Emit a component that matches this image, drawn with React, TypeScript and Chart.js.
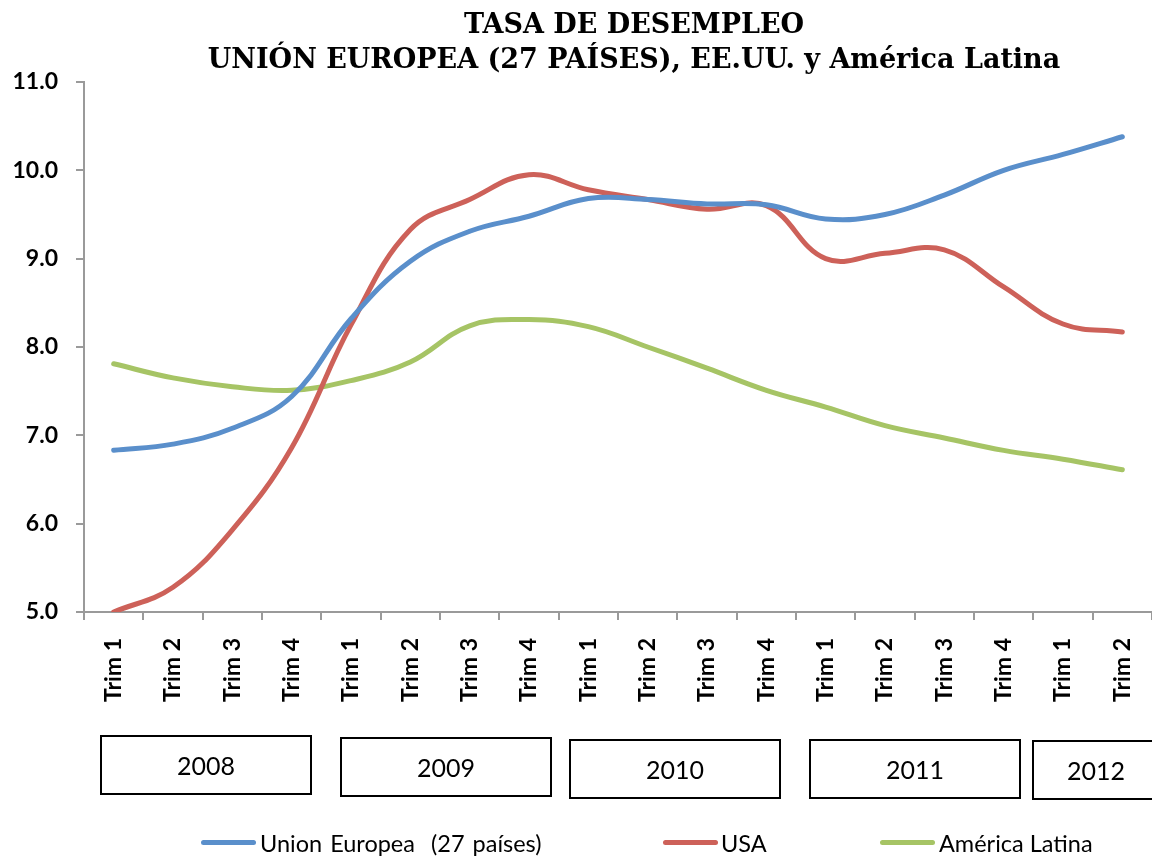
import React, { useEffect, useRef } from "react";
import { Chart, registerables } from "chart.js";

Chart.register(...registerables);

const quarters = [
  "Trim 1", "Trim 2", "Trim 3", "Trim 4",
  "Trim 1", "Trim 2", "Trim 3", "Trim 4",
  "Trim 1", "Trim 2", "Trim 3", "Trim 4",
  "Trim 1", "Trim 2", "Trim 3", "Trim 4",
  "Trim 1", "Trim 2",
];

const euValues = [6.83, 6.90, 7.08, 7.44, 8.32, 8.97, 9.31, 9.48, 9.68, 9.67, 9.62, 9.61, 9.45, 9.50, 9.72, 10.0, 10.18, 10.38];
const usaValues = [5.0, 5.28, 5.93, 6.86, 8.25, 9.33, 9.67, 9.95, 9.78, 9.67, 9.56, 9.60, 9.00, 9.06, 9.10, 8.68, 8.26, 8.17];
const latamValues = [7.81, 7.65, 7.55, 7.51, 7.62, 7.83, 8.24, 8.31, 8.23, 8.0, 7.76, 7.51, 7.32, 7.11, 6.97, 6.83, 6.73, 6.61];

const seriesNames = ["Union Europea  (27 países)", "USA", "América Latina"];
const seriesColors = ["#5A8FCB", "#CD6159", "#A6C465"];

const titleLines = ["TASA DE DESEMPLEO", "UNIÓN EUROPEA (27 PAÍSES), EE.UU. y América Latina"];
const years = ["2008", "2009", "2010", "2011", "2012"];
const yearBoxes = [
  { left: 100, top: 735, width: 212, height: 60 },
  { left: 340, top: 737, width: 212, height: 60 },
  { left: 569, top: 739, width: 212, height: 60 },
  { left: 809, top: 739, width: 212, height: 60 },
  { left: 1032, top: 740, width: 140, height: 60 },
];
const legendPos = [
  { line: 201, text: 260 },
  { line: 663, text: 721 },
  { line: 880, text: 939 },
];

export default function App() {
  const canvasRef = useRef<HTMLCanvasElement | null>(null);

  useEffect(() => {
    const canvas = canvasRef.current;
    if (!canvas) return;
    const chart = new Chart(canvas, {
      type: "line",
      data: {
        labels: quarters,
        datasets: [euValues, usaValues, latamValues].map((vals, i) => ({
          label: seriesNames[i],
          data: vals,
          borderColor: seriesColors[i],
          backgroundColor: seriesColors[i],
          borderWidth: 5,
          pointRadius: 0,
          tension: 0.4,
          borderCapStyle: "round" as const,
          borderJoinStyle: "round" as const,
          fill: false,
        })),
      },
      options: {
        animation: false,
        responsive: false,
        maintainAspectRatio: false,
        layout: { padding: { top: 82, left: 0, right: 0, bottom: 0 } },
        plugins: {
          legend: { display: false },
          title: { display: false },
          tooltip: { enabled: false },
        },
        scales: {
          x: {
            type: "category",
            offset: true,
            afterFit: (s: any) => {
              s.height = 244;
              s.paddingLeft = 0;
              s.paddingRight = 0;
            },
            grid: {
              offset: true,
              drawOnChartArea: false,
              drawTicks: true,
              tickLength: 8,
              color: "#9a9a9a",
              lineWidth: 2,
            },
            border: { display: true, color: "#9a9a9a", width: 2 },
            ticks: {
              autoSkip: false,
              minRotation: 90,
              maxRotation: 90,
              padding: 18,
              color: "#000",
              font: { family: "Lato", size: 23, weight: "bold" },
            },
          },
          y: {
            min: 5,
            max: 11,
            afterFit: (s: any) => { s.width = 84; },
            grid: {
              drawOnChartArea: false,
              drawTicks: true,
              tickLength: 8,
              color: "#9a9a9a",
              lineWidth: 2,
            },
            border: { display: true, color: "#9a9a9a", width: 2 },
            ticks: {
              stepSize: 1,
              padding: 18,
              color: "#000",
              font: { family: "Lato", size: 23, weight: "bold" },
              callback: (v: any) => Number(v).toFixed(1),
            },
          },
        },
      },
    });
    return () => chart.destroy();
  }, []);

  return (
    <div style={{ position: "fixed", left: 0, top: 0, width: 1152, height: 856, overflow: "hidden", background: "#fff" }}>
      <canvas ref={canvasRef} width={1152} height={856} style={{ position: "absolute", left: 0, top: 0, width: 1152, height: 856 }} />
      <div
        style={{
          position: "absolute", left: 334, width: 600, top: 6, textAlign: "center",
          fontFamily: "'DejaVu Serif', serif", fontWeight: "bold", fontSize: 27, lineHeight: "35px", color: "#000",
        }}
      >
        <div style={{ whiteSpace: "nowrap", marginLeft: -300, marginRight: -300 }}>{titleLines[0]}</div>
        <div style={{ whiteSpace: "nowrap", marginLeft: -300, marginRight: -300 }}>{titleLines[1]}</div>
      </div>
      {years.map((y, i) => (
        <div
          key={y}
          style={{
            position: "absolute", left: yearBoxes[i].left, top: yearBoxes[i].top,
            width: yearBoxes[i].width, height: yearBoxes[i].height, boxSizing: "border-box",
            border: "2px solid #000", display: "flex", alignItems: "center",
            justifyContent: i === 4 ? "flex-start" : "center",
            paddingLeft: i === 4 ? 33 : 0,
            fontFamily: "Lato, sans-serif", fontSize: 25, color: "#000",
          }}
        >
          {y}
        </div>
      ))}
      {seriesNames.map((n, i) => (
        <React.Fragment key={n}>
          <div
            style={{
              position: "absolute", left: legendPos[i].line, top: 840, width: 55, height: 5,
              borderRadius: 3, background: seriesColors[i],
            }}
          />
          <div
            style={{
              position: "absolute", left: legendPos[i].text, top: 828, whiteSpace: "pre",
              fontFamily: "Lato, sans-serif", fontSize: 23.5, lineHeight: "30px", color: "#000",
              wordSpacing: i === 0 ? 2 : 0,
            }}
          >
            {n}
          </div>
        </React.Fragment>
      ))}
    </div>
  );
}
